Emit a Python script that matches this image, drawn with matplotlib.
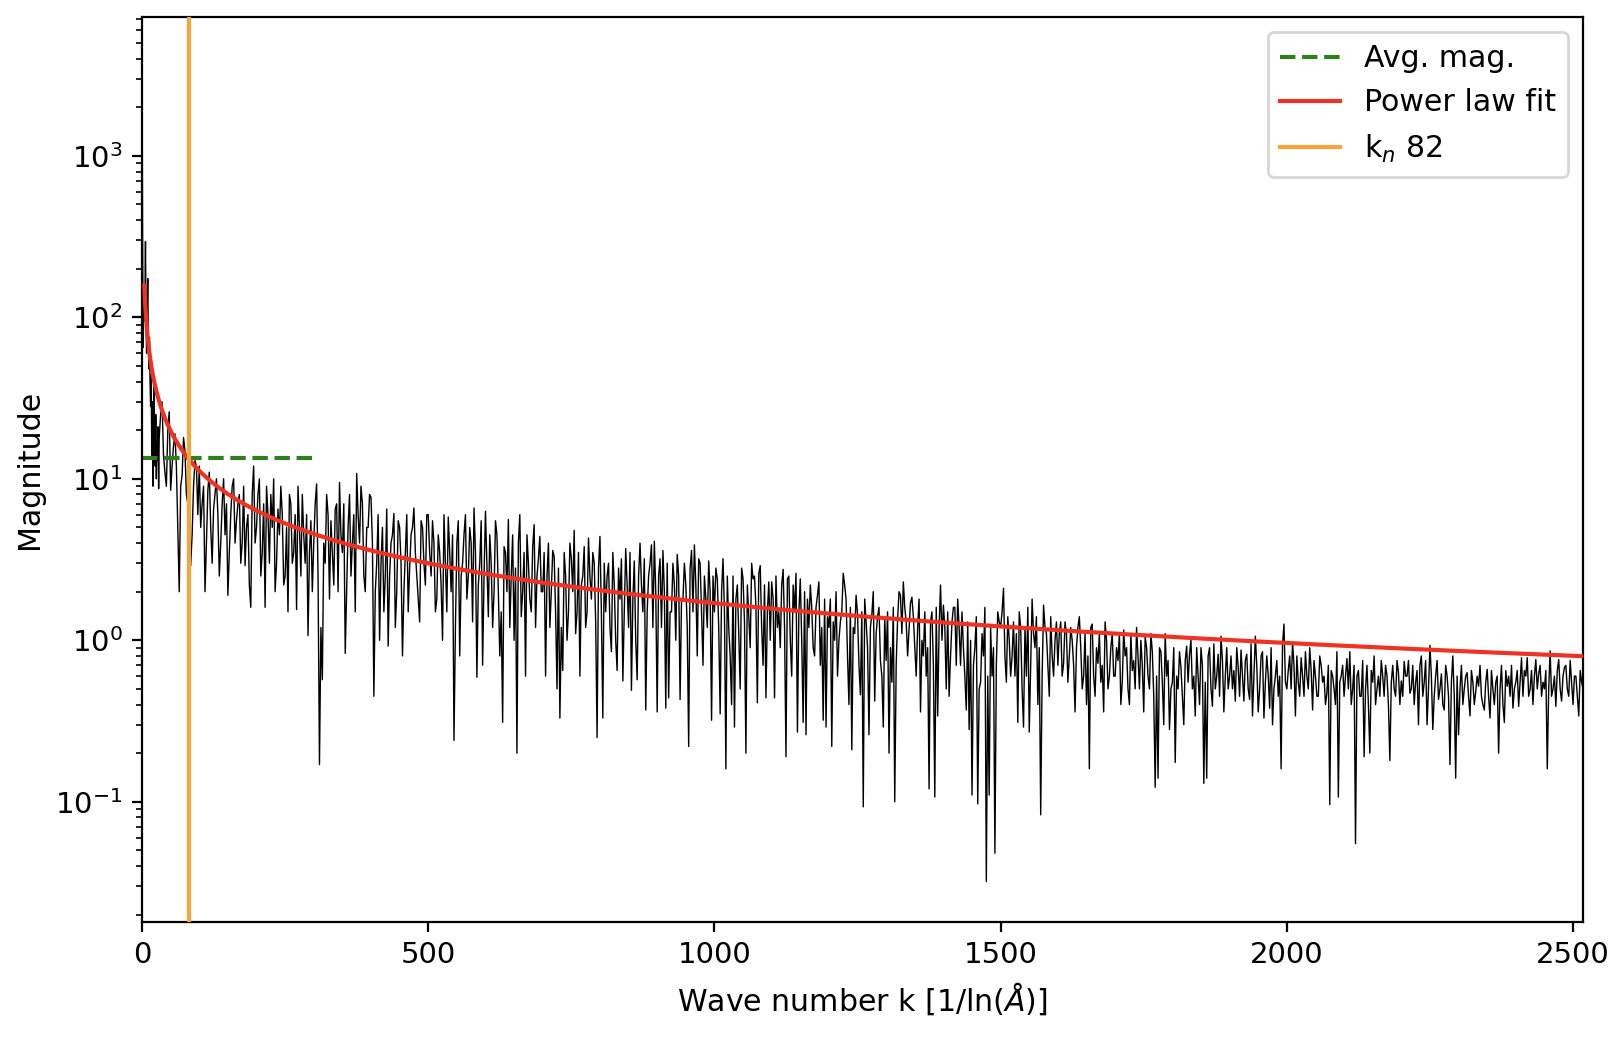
import numpy as np
import matplotlib
matplotlib.use("Agg")
import matplotlib.pyplot as plt

# ---- data ----
# k = 0..29 (step 1)
mag_k0_29 = [3800, 280, 65, 140, 95, 120, 295, 90, 60, 110,
             174, 70, 48, 75, 40, 28, 44, 14, 30, 9,
             22, 40, 18, 12, 25, 10, 17, 13, 21, 8.7]
# k = 30..95 (step 5)
mag_k30_95 = [18, 30, 11, 20, 8.5, 16, 12, 2.0, 10.5, 15, 7, 2.9, 9, 12]
# k = 100..495 (step 5)
mag_k100_495 = [
    12, 7, 2.0, 8.5, 5, 6.5, 10, 2.5, 7, 4.5, 1.9, 6, 10, 5.5, 8, 4, 2.9, 6, 1.6, 12,
    5, 10, 3.5, 1.6, 6, 8, 10, 3, 4.5, 6, 2.5, 1.5, 7, 3.5, 1.55, 5, 8, 3, 1.07, 5.5,
    4, 9.3, 0.17, 0.57, 3, 6, 5.5, 2.2, 7, 9.5, 3.5, 0.83, 5, 2.5, 6, 10.8, 4, 7, 2, 5,
    7.7, 0.45, 3, 1.0, 5, 2.5, 0.92, 4, 6.1, 2, 5, 0.8, 3.5, 1.5, 4.5, 6.6, 2.5, 1.3, 5, 2.2]
# k = 500..995 (step 5)
mag_k500_995 = [
    6, 2.5, 4, 1.8, 3.5, 1.0, 3, 5.8, 2, 0.24, 4, 0.8, 3, 6, 2.5, 4, 6.6, 0.59, 3, 0.7,
    6.3, 1.4, 3, 2, 4.5, 0.8, 0.31, 3.5, 5.6, 2.5, 1.0, 0.2, 6, 2, 0.6, 3, 1.5, 5.2, 2.5, 4.4,
    2, 0.6, 4.0, 2, 3.3, 0.5, 0.33, 0.65, 2.5, 1.5, 3.2, 4.8, 1.5, 0.6, 2.5, 1.2, 4.3, 1.8, 3, 0.25,
    4.4, 0.33, 1.5, 3.0, 0.85, 2.2, 0.65, 1.8, 0.56, 3.7, 1.2, 0.49, 3.1, 0.57, 4.0, 1.5, 0.37, 2.5, 3.9, 4.1,
    0.36, 3.2, 3.6, 0.38, 0.44, 1.5, 2.2, 3.4, 0.43, 1.8, 2.2, 0.22, 3.6, 3.9, 0.8, 3.0, 0.7, 1.8, 3.1, 0.32]
# k = 1000..1495 (step 5)
mag_k1000_1495 = [
    1.5, 2.4, 0.35, 3.2, 0.16, 1.2, 0.4, 0.29, 2.2, 0.5, 2.4, 0.2, 1.4, 3.0, 2.5, 0.41, 2.9, 0.7, 0.44, 2.3,
    2.3, 0.44, 1.2, 0.9, 2.75, 0.19, 2.5, 0.6, 1.5, 0.27, 2.4, 0.31, 0.26, 1.2, 1.6, 0.8, 1.9, 0.7, 0.32, 0.29,
    1.2, 0.22, 1.0, 0.6, 1.3, 2.6, 1.8, 0.4, 0.21, 1.1, 1.45, 0.46, 0.093, 1.3, 0.26, 1.45, 0.42, 1.4, 0.75, 0.29,
    0.75, 0.2, 0.55, 0.1, 1.35, 1.9, 2.3, 1.3, 1.15, 1.85, 0.93, 1.2, 0.36, 0.8, 0.6, 0.12, 1.5, 0.107, 0.34, 2.2,
    1.65, 0.5, 0.45, 1.3, 1.6, 1.8, 0.7, 0.9, 0.37, 0.28, 0.11, 0.9, 0.097, 0.55, 0.8, 0.032, 0.11, 0.6, 0.048, 1.5]
# k = 1500..1995 (step 5)
mag_k1500_1995 = [
    1.2, 2.1, 0.55, 1.0, 0.8, 0.6, 0.31, 1.2, 0.29, 0.6, 0.27, 1.8, 0.9, 0.4, 0.083, 1.65, 1.1, 0.45, 0.8, 1.0,
    0.7, 1.3, 0.72, 1.1, 0.8, 1.0, 0.36, 1.2, 0.9, 0.6, 0.4, 0.16, 1.26, 0.45, 0.72, 0.55, 0.36, 1.0, 0.6, 1.1,
    0.6, 0.75, 0.4, 1.16, 0.9, 0.4, 0.65, 0.5, 0.8, 1.0, 0.36, 0.9, 0.5, 0.85, 0.123, 0.14, 0.85, 0.3, 0.6, 0.28,
    0.55, 0.175, 0.5, 0.68, 0.3, 0.92, 0.82, 0.5, 0.34, 0.6, 0.9, 0.13, 0.14, 0.9, 0.39, 0.5, 0.82, 1.06, 0.36, 0.9,
    0.6, 0.5, 0.42, 0.68, 0.87, 0.42, 0.82, 0.43, 0.34, 1.06, 0.36, 0.8, 0.33, 0.8, 0.38, 0.3, 0.6, 0.45, 0.16, 1.26]
# k = 2000..2515 (step 5)
mag_k2000_2515 = [
    0.5, 0.8, 0.97, 0.34, 0.55, 0.78, 0.45, 0.6, 0.9, 0.37, 0.6, 0.45, 0.7, 0.6, 0.47, 0.096, 0.6, 0.4, 0.107, 0.6,
    0.45, 0.77, 0.85, 0.5, 0.055, 0.65, 0.45, 0.19, 0.7, 0.2, 0.55, 0.4, 0.6, 0.75, 0.45, 0.6, 0.18, 0.7, 0.45, 0.63,
    0.56, 0.74, 0.6, 0.47, 0.7, 0.55, 0.3, 0.8, 0.55, 0.3, 0.93, 0.28, 0.6, 0.43, 0.62, 0.37, 0.6, 0.17, 0.8, 0.14,
    0.26, 0.7, 0.5, 0.63, 0.34, 0.55, 0.48, 0.52, 0.45, 0.37, 0.66, 0.33, 0.5, 0.55, 0.2, 0.7, 0.31, 0.52, 0.45, 0.38,
    0.55, 0.39, 0.78, 0.65, 0.78, 0.5, 0.4, 0.76, 0.62, 0.45, 0.5, 0.16, 0.86, 0.5, 0.39, 0.76, 0.42, 0.68, 0.5, 0.75,
    0.4, 0.6, 0.34, 0.55]

# in-between readings, k = start + 2.5 (step 5)
mid_k30_95 = [25, 14, 9, 26, 12, 19, 5, 9, 18, 8, 11, 4.5, 13, 6]
mid_k100_495 = [
    5, 9, 4, 11, 3, 8, 6, 4, 10, 7, 3.5, 9, 4, 7, 3, 9, 5, 2.2, 8, 4,
    8, 2.5, 7, 9, 3, 5, 2, 6.5, 9, 2.2, 5, 8, 3, 6, 9, 2.5, 4.5, 6, 3.5, 2,
    7, 2.5, 1.2, 4, 8, 1.8, 3.5, 6.5, 2, 4.5, 7, 2, 8, 4, 1.5, 6, 9, 2.5, 5, 8,
    4, 2, 6, 3, 1.5, 6.5, 2.5, 4.5, 1.2, 5.5, 3, 2, 6, 2.8, 5, 3.5, 1.8, 5.5, 3, 6]
mid_k500_995 = [
    3.5, 5.5, 1.5, 4.5, 2.2, 6, 1.5, 3.5, 4.5, 1.2, 5.5, 2.5, 4.5, 1.8, 5, 1.3, 3.5, 2.2, 5.5, 2.5,
    3, 4.5, 1.2, 5.5, 2, 1.5, 3.8, 2, 1.2, 4.5, 2.8, 4, 1.4, 3.5, 4.5, 1.8, 3.8, 1.2, 3.2, 2,
    3.5, 2.5, 1.2, 3.6, 1.5, 2.8, 1.2, 3.5, 1, 4, 2, 1.1, 3.5, 2.2, 3.8, 1.5, 2.5, 3.5, 1.3, 2.8,
    1.5, 3, 2.5, 1.2, 3.5, 1, 2.8, 3.2, 1.5, 2.2, 3.5, 1.8, 1, 2.5, 2.2, 3.2, 1.5, 3, 1.2, 2,
    2.5, 1.2, 2, 3, 1.5, 3, 1, 2.5, 1.8, 3, 1.2, 2.8, 1.5, 2.2, 3.2, 1.5, 2.5, 1.2, 2, 2.5]
mid_k1000_1495 = [
    2.8, 1.2, 2, 1.5, 2.5, 0.8, 2.5, 1.8, 1.1, 2.8, 1.3, 2.2, 0.9, 2.4, 1.6, 2.6, 1.2, 2.2, 1.5, 1,
    1.8, 2.5, 1.5, 2.2, 1.2, 2.4, 1, 2.2, 2.6, 1.5, 1, 2, 1.8, 2.2, 0.9, 1.6, 2.3, 1.2, 1.8, 1.4,
    1.8, 1.3, 2, 1, 1.5, 2.2, 0.8, 1.6, 1.2, 1.9, 0.7, 1.5, 1.8, 0.9, 1.2, 2, 1.1, 1.6, 0.6, 1.4,
    1.5, 0.9, 1.6, 0.7, 2, 1.1, 1.6, 0.8, 1.7, 1.4, 0.6, 1.8, 1, 1.5, 0.9, 1.3, 0.7, 1.6, 1.2, 1,
    1.2, 1.5, 0.8, 1.6, 0.7, 1.2, 1.5, 0.6, 1.3, 1, 0.7, 1.4, 0.5, 1.1, 1.6, 0.6, 1.2, 0.9, 0.7, 1.3]
mid_k1500_1995 = [
    1.5, 0.8, 1.4, 0.6, 1.3, 1.1, 1.5, 0.5, 1.2, 1.6, 0.7, 1.1, 1.4, 0.9, 0.6, 1.2, 0.7, 1.4, 0.6, 1.3,
    1.1, 0.6, 1.3, 0.55, 1.2, 0.7, 0.9, 1.4, 0.5, 1.1, 0.8, 1.2, 0.6, 0.9, 1.1, 0.7, 1.3, 0.5, 0.9, 0.6,
    0.9, 1.1, 0.55, 0.8, 0.5, 1.1, 0.75, 1.2, 0.5, 0.7, 1.05, 0.6, 1.1, 0.45, 0.6, 0.9, 0.55, 1.1, 0.75, 0.5,
    0.9, 0.6, 0.85, 0.45, 0.75, 0.55, 1.0, 0.6, 0.9, 0.4, 0.7, 0.55, 0.8, 0.5, 0.95, 0.6, 0.45, 0.75, 0.6, 0.5,
    0.8, 0.65, 0.9, 0.45, 0.6, 0.75, 0.5, 0.95, 0.6, 0.7, 0.5, 0.85, 0.55, 0.6, 0.9, 0.5, 0.75, 0.6, 0.95, 0.55]
mid_k2000_2515 = [
    0.65, 0.5, 0.7, 0.8, 0.45, 0.6, 0.85, 0.5, 0.65, 0.75, 0.45, 0.8, 0.55, 0.4, 0.7, 0.65, 0.5, 0.85, 0.55, 0.7,
    0.6, 0.5, 0.4, 0.7, 0.6, 0.45, 0.75, 0.5, 0.4, 0.65, 0.8, 0.5, 0.45, 0.6, 0.7, 0.4, 0.55, 0.5, 0.75, 0.4,
    0.45, 0.6, 0.75, 0.5, 0.4, 0.65, 0.7, 0.45, 0.75, 0.5, 0.6, 0.45, 0.75, 0.5, 0.4, 0.7, 0.45, 0.55, 0.45, 0.6,
    0.5, 0.4, 0.6, 0.45, 0.65, 0.4, 0.6, 0.7, 0.4, 0.55, 0.45, 0.65, 0.4, 0.6, 0.5, 0.4, 0.65, 0.6, 0.7, 0.5,
    0.65, 0.55, 0.45, 0.6, 0.45, 0.65, 0.6, 0.5, 0.7, 0.55, 0.65, 0.5, 0.45, 0.6, 0.65, 0.5, 0.6, 0.7, 0.45, 0.55,
    0.6, 0.45, 0.65, 0.5]

avg_mag = 13.4          # average magnitude (dashed line)
avg_k_range = [0, 300]  # extent of dashed line
fit_amp = 490.0         # power law fit: amp * k**fit_exp
fit_exp = -0.82
fit_k_range = [4, 2518]
k_n = 82
k_max = 2518

# ---- assemble (each list placed from its own start, step 5) ----
blocks = [
    (30, mag_k30_95), (100, mag_k100_495), (500, mag_k500_995),
    (1000, mag_k1000_1495), (1500, mag_k1500_1995), (2000, mag_k2000_2515),
    (32.5, mid_k30_95), (102.5, mid_k100_495), (502.5, mid_k500_995),
    (1002.5, mid_k1000_1495), (1502.5, mid_k1500_1995), (2002.5, mid_k2000_2515),
]
ks = [np.arange(len(mag_k0_29), dtype=float)]
ms = [np.array(mag_k0_29, dtype=float)]
for start, vals in blocks:
    ks.append(start + 5.0 * np.arange(len(vals)))
    ms.append(np.array(vals, dtype=float))
k_all = np.concatenate(ks)
mag_all = np.concatenate(ms)
order = np.argsort(k_all, kind="stable")
k_all, mag_all = k_all[order], mag_all[order]
keep = k_all <= k_max
k_all, mag_all = k_all[keep], mag_all[keep]

k_fit = np.linspace(fit_k_range[0], fit_k_range[1], 2000)
y_fit = fit_amp * k_fit ** fit_exp

fig = plt.figure(figsize=(8.07, 5.195), dpi=200)
ax = fig.add_axes([0.088, 0.1126, 0.893, 0.8706])

ax.plot(k_all, mag_all, color="black", lw=0.5, zorder=1)
ax.plot(avg_k_range, [avg_mag, avg_mag], ls="--", color="#2e7d1f", lw=1.5,
        label="Avg. mag.", zorder=2)
ax.plot(k_fit, y_fit, color="#ee3325", lw=1.5, label="Power law fit", zorder=3)
ax.axvline(k_n, color="#f5a53a", lw=1.5, label=r"k$_n$ " + str(k_n), zorder=4)

ax.set_yscale("log")
ax.set_xlim(0, k_max)
ax.set_ylim(0.018, 7200)
ax.set_xticks([0, 500, 1000, 1500, 2000, 2500])
ax.tick_params(labelsize=10.5)
ax.set_xlabel(r"Wave number k [1/ln($\AA$)]", fontsize=10.8)
ax.set_ylabel("Magnitude", fontsize=10.8)
ax.legend(loc="upper right", fontsize=10.8)

fig.savefig("out.png", dpi=200)
